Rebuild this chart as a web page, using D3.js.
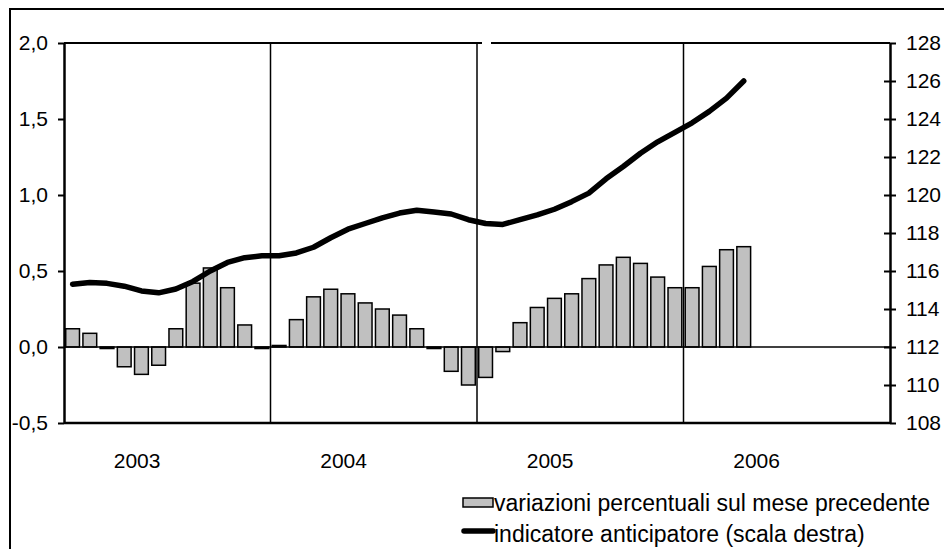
<!DOCTYPE html>
<html>
<head>
<meta charset="utf-8">
<script src="https://d3js.org/d3.v7.min.js"></script>
<style>
  body { margin: 0; background: #fff; }
  svg { display: block; font-family: "Liberation Sans", Arial, sans-serif; }
  .axis text { font-size: 21px; fill: #000; }
</style>
</head>
<body>
<div id="chart"></div>
<script>
// data
var years = ["2003", "2004", "2005", "2006"]
var months = []
years.forEach(function(y){ for (var m = 1; m <= 12; m++) months.push(y + "-" + (m < 10 ? "0" + m : m)) })

// variazioni percentuali sul mese precedente (scala sinistra)
var variazioni = [
  0.12, 0.09, -0.01, -0.13, -0.18, -0.12, 0.12, 0.42, 0.52, 0.39, 0.145, -0.01,
  0.01, 0.18, 0.33, 0.38, 0.35, 0.29, 0.25, 0.21, 0.12, -0.01, -0.16, -0.25,
  -0.20, -0.03, 0.16, 0.26, 0.32, 0.35, 0.45, 0.54, 0.59, 0.55, 0.46, 0.39,
  0.39, 0.53, 0.64, 0.66
]
// indicatore anticipatore (scala destra)
var indicatore = [
  115.3, 115.4, 115.35, 115.2, 114.95, 114.85, 115.05, 115.45, 116.0, 116.45, 116.7, 116.8,
  116.8, 116.95, 117.25, 117.75, 118.2, 118.5, 118.8, 119.05, 119.2, 119.1, 119.0, 118.7,
  118.5, 118.45, 118.7, 118.95, 119.25, 119.65, 120.1, 120.85, 121.5, 122.2, 122.8, 123.3,
  123.8, 124.4, 125.1, 126.0
]
var leftTicks = [-0.5, 0, 0.5, 1.0, 1.5, 2.0]
var rightTicks = [108, 110, 112, 114, 116, 118, 120, 122, 124, 126, 128]
var legendLabels = ["variazioni percentuali sul mese precedente", "indicatore anticipatore (scala destra)"]

var W = 944, H = 549
var pLeft = 64, pRight = 890, pTop = 43, pBottom = 423

var svg = d3.select("#chart").append("svg")
  .attr("width", W)
  .attr("height", H)

// outer frame (runs off the picture on right and bottom)
svg.append("rect")
  .attr("x", 10).attr("y", 9)
  .attr("width", 1200).attr("height", 1200)
  .attr("fill", "none").attr("stroke", "#000").attr("stroke-width", 2)

var x = d3.scaleBand().domain(months).range([pLeft, pRight]).paddingInner(0.2).paddingOuter(0.1)
var step = x.step()
var yL = d3.scaleLinear().domain([-0.5, 2.0]).range([pBottom, pTop])
var yR = d3.scaleLinear().domain([108, 128]).range([pBottom, pTop])

var itLocale = d3.formatLocale({ decimal: ",", thousands: ".", grouping: [3], currency: ["", "€"], minus: "-" })
var fmt = itLocale.format(".1f")

function boundary(m){ return x(m) - x.paddingInner() * step / 2 }

// top border of plot, with the small break seen in the original
svg.append("line")
  .attr("x1", pLeft).attr("x2", pRight).attr("y1", pTop).attr("y2", pTop)
  .attr("stroke", "#000").attr("stroke-width", 2)
svg.append("rect")
  .attr("x", 482).attr("y", pTop - 3).attr("width", 9).attr("height", 6)
  .attr("fill", "#fff")

// year separators
svg.selectAll(".sep").data(years.slice(1)).enter().append("line")
  .attr("class", "sep")
  .attr("x1", function(d){ return boundary(d + "-01") })
  .attr("x2", function(d){ return boundary(d + "-01") })
  .attr("y1", pTop).attr("y2", pBottom)
  .attr("stroke", "#000").attr("stroke-width", 1.5)

// bars
svg.selectAll(".bar").data(variazioni).enter().append("rect")
  .attr("class", "bar")
  .attr("x", function(d, i){ return x(months[i]) })
  .attr("width", x.bandwidth())
  .attr("y", function(d){ return yL(Math.max(0, d)) })
  .attr("height", function(d){ return Math.abs(yL(d) - yL(0)) })
  .attr("fill", "#c0c0c0")
  .attr("stroke", "#000").attr("stroke-width", 1.5)

// zero line
svg.append("line")
  .attr("x1", pLeft).attr("x2", pRight).attr("y1", yL(0)).attr("y2", yL(0))
  .attr("stroke", "#000").attr("stroke-width", 1.5)

// bottom line
svg.append("line")
  .attr("x1", pLeft).attr("x2", pRight).attr("y1", pBottom).attr("y2", pBottom)
  .attr("stroke", "#000").attr("stroke-width", 2.5)

// indicator line
var line = d3.line()
  .x(function(d, i){ return x(months[i]) + x.bandwidth() / 2 })
  .y(function(d){ return yR(d) })
svg.append("path")
  .datum(indicatore)
  .attr("d", line)
  .attr("fill", "none").attr("stroke", "#000").attr("stroke-width", 5.5)
  .attr("stroke-linejoin", "round").attr("stroke-linecap", "round")

// left axis
var axL = svg.append("g").attr("class", "axis")
  .attr("transform", "translate(" + pLeft + ",0)")
  .call(d3.axisLeft(yL).tickValues(leftTicks).tickFormat(fmt).tickSize(6).tickSizeOuter(0).tickPadding(10))
axL.select(".domain").attr("stroke-width", 2.5)
axL.selectAll(".tick line").attr("stroke-width", 2)

// right axis, ticks cross the line
var axR = svg.append("g").attr("class", "axis")
  .attr("transform", "translate(" + pRight + ",0)")
  .call(d3.axisRight(yR).tickValues(rightTicks).tickSize(6).tickSizeOuter(0).tickPadding(10))
axR.select(".domain").attr("stroke-width", 2.5)
axR.selectAll(".tick line").attr("x1", function(d){ return d === 128 || d === 108 ? 0 : -6 }).attr("stroke-width", 2)

// year labels
svg.selectAll(".year").data(years).enter().append("text")
  .attr("class", "year")
  .attr("x", function(d){ return boundary(d + "-01") + 4.25 * step })
  .attr("y", 468)
  .attr("text-anchor", "middle")
  .attr("font-size", 21)
  .text(function(d){ return d })

// legend
var lg = svg.append("g").attr("transform", "translate(462,0)")
lg.append("rect")
  .attr("x", 1).attr("y", 498).attr("width", 30).attr("height", 9)
  .attr("fill", "#c0c0c0").attr("stroke", "#000").attr("stroke-width", 1.5)
lg.append("line")
  .attr("x1", 2).attr("x2", 31).attr("y1", 531).attr("y2", 531)
  .attr("stroke", "#000").attr("stroke-width", 5.5).attr("stroke-linecap", "round")
lg.selectAll(".lt").data(legendLabels).enter().append("text")
  .attr("class", "lt")
  .attr("x", 32)
  .attr("y", function(d, i){ return 511 + i * 31 })
  .attr("font-size", 23)
  .text(function(d){ return d })
</script>
</body>
</html>
